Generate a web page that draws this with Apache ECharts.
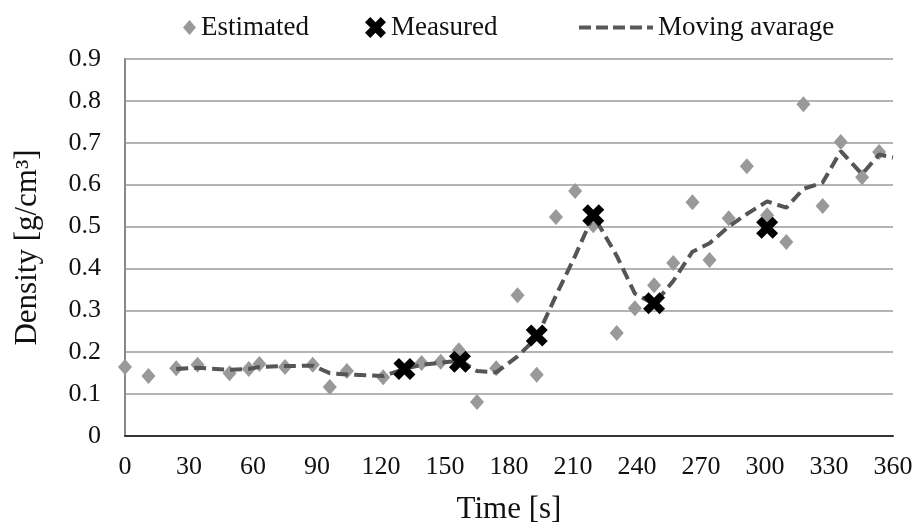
<!DOCTYPE html>
<html lang="en">
<head>
    <meta charset="UTF-8">
    <title>Density over time</title>
    <style>
        html, body { margin: 0; padding: 0; background: #fff; }
        #main { width: 916px; height: 530px; }
    </style>
</head>
<body>
    <div id="main"></div>
</body>
</html>
<script src="https://cdn.jsdelivr.net/npm/echarts@6/dist/echarts.min.js"></script>
<script>
    // values: [time s, density g/cm3]
    var estimated = [
        [0, 0.165], [11, 0.143], [24, 0.162], [34, 0.170], [49, 0.150], [58, 0.160],
        [63, 0.172], [75, 0.165], [88, 0.170], [96, 0.117], [104, 0.155], [121, 0.140],
        [139, 0.174], [148, 0.177], [156.5, 0.205], [165, 0.081], [174, 0.162], [184, 0.336],
        [193, 0.146], [202, 0.523], [211, 0.585], [219.5, 0.503], [230.5, 0.246], [239, 0.305],
        [248, 0.360], [257, 0.413], [266, 0.558], [274, 0.420], [283, 0.520], [291.5, 0.644],
        [301, 0.527], [310, 0.463], [318, 0.792], [327, 0.549], [335.5, 0.702], [345.5, 0.618],
        [353.5, 0.678]
    ];
    var measured = [
        [131, 0.160], [157, 0.177], [193, 0.240], [219.5, 0.527], [248, 0.317], [301, 0.497]
    ];
    var movingAvg = [
        [24, 0.160], [34, 0.163], [49, 0.158], [58, 0.160], [63, 0.165], [75, 0.167],
        [88, 0.168], [96, 0.150], [104, 0.147], [121, 0.143], [131, 0.160], [139, 0.170],
        [148, 0.175], [157, 0.180], [165, 0.155], [174, 0.152], [184, 0.190], [193, 0.235],
        [202, 0.335], [211, 0.430], [219.5, 0.527], [230.5, 0.430], [239, 0.340], [248, 0.315],
        [257, 0.370], [266, 0.440], [274, 0.460], [283, 0.500], [291.5, 0.530], [301, 0.560],
        [310, 0.545], [318, 0.590], [327, 0.605], [335.5, 0.680], [345.5, 0.625], [353.5, 0.672],
        [360, 0.665]
    ];

    var serif = 'Liberation Serif';
    var crossPath = 'path://M0,5 L5,0 L10,5 L15,0 L20,5 L15,10 L20,15 L15,20 L10,15 L5,20 L0,15 L5,10 Z';
    var textStyle = { fontFamily: serif, fontSize: 27, color: '#111' };

    var mainChart = echarts.init(document.getElementById('main'));
    var option = {
        animation: false,
        backgroundColor: '#fff',
        legend: [
            { data: ['Estimated'], left: 178, top: 9, icon: 'diamond', itemWidth: 13, itemHeight: 15, itemGap: 4, textStyle: textStyle },
            { data: ['Measured'], left: 360, top: 9, itemWidth: 21, itemHeight: 21, itemGap: 2, textStyle: textStyle },
            {
                data: [{ name: 'Moving avarage', itemStyle: { opacity: 0 } }],
                left: 572, top: 9, itemWidth: 74, itemHeight: 14, textStyle: textStyle,
                lineStyle: { width: 4, type: [12, 5], color: '#595959' }
            }
        ],
        grid: { left: 125, right: 23, top: 59, bottom: 94 },
        xAxis: {
            type: 'value',
            min: 0, max: 360, interval: 30,
            name: 'Time [s]',
            nameLocation: 'middle',
            nameGap: 58,
            nameTextStyle: { fontFamily: serif, fontSize: 31, color: '#111' },
            axisLine: { lineStyle: { color: '#333', width: 2 } },
            axisTick: { show: false },
            axisLabel: { fontFamily: serif, fontSize: 26, color: '#111', margin: 18 },
            splitLine: { show: false }
        },
        yAxis: {
            type: 'value',
            min: 0, max: 0.9, interval: 0.1,
            name: 'Density [g/cm³]',
            nameLocation: 'middle',
            nameGap: 82,
            nameTextStyle: { fontFamily: serif, fontSize: 31, color: '#111' },
            axisLine: { show: true, lineStyle: { color: '#888', width: 2 } },
            axisTick: { show: false },
            axisLabel: {
                fontFamily: serif, fontSize: 26, color: '#111', margin: 24,
                formatter: function (v) { return v === 0 ? '0' : v.toFixed(1); }
            },
            splitLine: { lineStyle: { color: '#b4b4b4', width: 2 } }
        },
        series: [
            {
                name: 'Estimated',
                type: 'scatter',
                data: estimated,
                symbol: 'diamond',
                symbolSize: [14, 16],
                itemStyle: { color: '#999', opacity: 1 },
                z: 2
            },
            {
                name: 'Moving avarage',
                type: 'line',
                data: movingAvg,
                symbol: 'none',
                lineStyle: { color: '#555', width: 4, type: [12, 6] },
                itemStyle: { color: '#555' },
                z: 3
            },
            {
                name: 'Measured',
                type: 'scatter',
                data: measured,
                symbol: crossPath,
                symbolSize: 22,
                itemStyle: { color: '#000', opacity: 1 },
                z: 4
            }
        ]
    };
    mainChart.setOption(option);
</script>
